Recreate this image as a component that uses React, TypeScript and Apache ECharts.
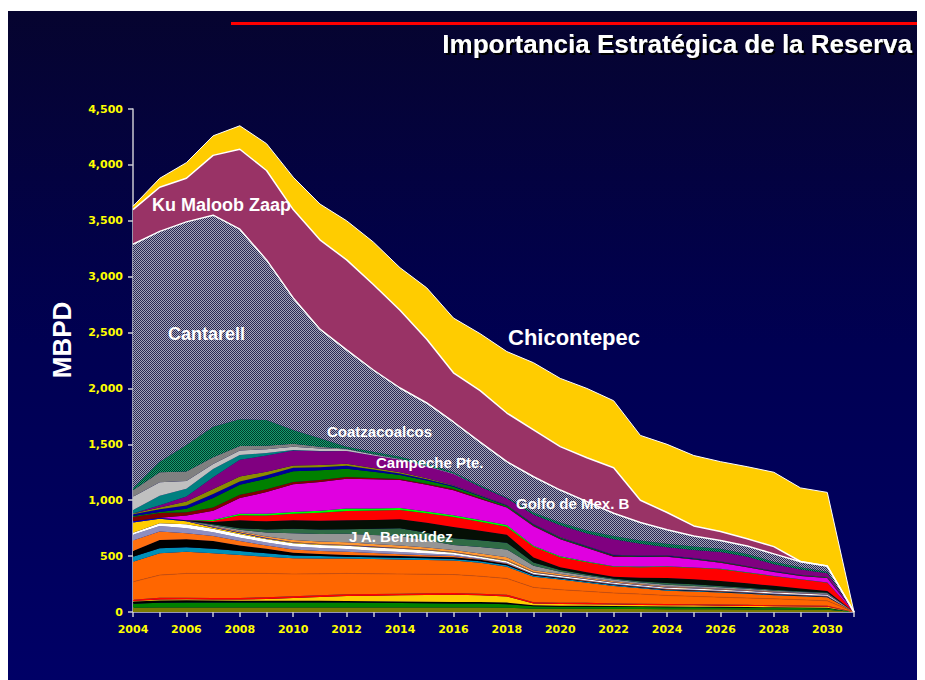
import React, { useEffect, useRef } from 'react';
import * as echarts from 'echarts';

const years = ['2004','2005','2006','2007','2008','2009','2010','2011','2012','2013','2014','2015','2016','2017','2018','2019','2020','2021','2022','2023','2024','2025','2026','2027','2028','2029','2030','2031'];

// stacked layers, bottom to top (MBPD)
const olivoBase = [38,40,40,40,40,40,40,40,40,40,40,40,40,40,38,30,28,28,26,26,25,24,24,22,22,20,20,0];
const verdeBase = [35,42,45,45,45,45,45,45,45,42,40,38,36,35,32,22,20,20,20,18,18,18,16,16,15,15,14,0];
const negroBase = [20,22,20,18,16,16,15,15,14,14,14,14,14,14,14,8,8,8,7,7,6,6,6,6,5,5,5,0];
const amarilloBase = [5,8,8,8,10,15,25,35,45,50,55,60,65,60,55,15,15,14,14,12,12,12,10,10,10,10,8,0];
const rojoBase = [12,15,15,15,15,15,15,15,15,15,15,15,15,15,15,12,12,12,10,10,10,10,10,10,8,8,8,0];
const naranjaA = [160,203,217,219,219,214,200,192,186,181,176,171,165,156,146,133,117,103,93,87,77,70,66,61,58,52,45,0];
const naranjaB = [180,195,195,180,165,150,140,136,133,133,130,127,125,120,105,96,90,77,63,52,43,44,43,38,32,30,31,0];
const azulVerde = [45,45,40,40,35,30,25,22,17,15,15,15,15,15,13,10,10,8,8,7,6,5,5,5,5,5,4,0];
const negro2 = [50,74,70,70,50,40,25,18,15,15,15,15,15,12,12,7,6,6,5,5,5,5,4,4,4,4,4,0];
const naranja2 = [95,76,55,45,40,30,30,28,28,22,17,12,10,6,5,3,3,3,3,3,3,3,3,3,3,3,3,0];
const grisLila = [50,50,45,33,30,27,27,26,26,22,20,17,12,6,5,4,3,3,3,3,3,3,3,3,3,3,3,0];
const blanco = [20,25,35,32,30,28,28,28,28,28,28,26,18,16,15,12,10,10,10,10,10,10,10,10,10,10,10,0];
const amarillo2 = [90,40,27,12,12,8,6,5,5,5,5,5,4,4,5,4,3,3,3,2,2,2,2,2,2,2,2,0];
const azul = [12,8,5,4,5,4,4,3,3,3,3,3,3,3,3,2,2,2,2,2,2,2,2,2,2,2,2,0];
const jaNaranja = [0,0,0,4,8,14,20,22,25,24,22,20,18,22,27,15,13,10,8,6,6,5,5,5,4,4,3,0];
const jaGris = [0,0,0,10,15,35,60,68,75,80,85,65,45,58,70,40,20,17,15,14,15,14,12,10,8,6,6,0];
const jaVerde = [0,0,0,10,15,28,40,40,40,55,70,65,60,60,60,30,15,12,10,12,16,15,12,10,8,6,6,0];
const jaNegro = [0,0,3,20,70,72,75,78,81,80,80,90,100,85,70,45,25,20,16,30,45,45,45,40,35,25,13,0];
const rojo = [0,0,0,10,45,52,60,72,83,83,82,86,90,80,72,95,90,90,89,95,100,102,104,95,85,80,74,0];
const verdeClaro = [0,0,0,7,15,15,14,18,21,20,18,16,15,15,16,10,8,6,5,5,5,4,4,4,3,3,3,0];
const magenta = [0,0,43,83,139,195,248,258,268,260,250,238,225,190,157,175,152,120,85,85,85,70,55,45,35,30,40,0];
const rojoOscuro = [38,42,30,30,30,25,20,18,15,12,10,10,10,8,5,5,5,5,5,4,4,4,4,3,3,3,3,0];
const verde = [8,10,30,85,89,95,98,86,74,55,35,28,20,15,10,8,7,6,5,4,4,4,4,3,3,3,3,0];
const marino = [17,25,30,35,30,30,30,28,27,20,15,12,10,7,4,4,5,5,5,4,4,3,3,3,3,2,2,0];
const olivo = [7,15,35,45,45,32,20,19,18,14,10,8,5,4,3,3,3,2,2,2,2,2,2,2,2,2,2,0];
const campeche = [0,20,45,105,149,145,135,124,113,112,112,106,100,75,60,82,105,113,138,105,72,73,83,83,60,47,32,0];
const verdeAzul = [30,85,70,75,43,22,5,2,0,0,0,0,0,0,0,0,0,0,0,0,0,0,0,0,0,0,0,0];
const grisClaro = [118,120,70,45,40,34,28,22,15,10,5,4,3,0,0,0,0,0,0,0,0,0,0,0,0,0,0,0];
const gris = [60,90,85,60,39,32,27,16,6,4,3,2,2,0,0,0,0,0,0,0,0,0,0,0,0,0,0,0];
const coatzacoalcos = [17,95,236,273,240,230,123,75,18,20,20,22,10,14,8,20,25,27,30,30,30,30,28,25,22,20,15,0];
const cantarell = [2183,2060,1996,1892,1701,1432,1182,976,866,731,614,540,450,385,320,320,291,257,203,160,125,95,75,70,70,50,50,0];
const kuMaloobZaap = [310,395,390,535,715,800,790,800,805,765,696,570,440,460,435,420,389,393,407,200,155,90,80,65,65,2,0,0];
const chicontepec = [30,80,140,175,210,240,290,320,350,380,380,460,490,510,550,600,610,620,600,580,610,630,625,645,665,658,659,0];

const yMin = 0;
const yMax = 4500;
const yStep = 500;

function makeChecker(light: string, dark: string) {
  const c = document.createElement('canvas');
  c.width = 2;
  c.height = 2;
  const ctx = c.getContext('2d')!;
  ctx.fillStyle = dark;
  ctx.fillRect(0, 0, 2, 2);
  ctx.fillStyle = light;
  ctx.fillRect(0, 0, 1, 1);
  ctx.fillRect(1, 1, 1, 1);
  return c;
}

export default function App() {
  const ref = useRef<HTMLDivElement>(null);
  useEffect(() => {
    const chart = echarts.init(ref.current!, undefined, { renderer: 'svg' });
    const grayPat = { image: makeChecker('#A4A4BA', '#282852'), repeat: 'repeat' };
    const greenPat = { image: makeChecker('#16A070', '#003A2A'), repeat: 'repeat' };
    const layers: any[] = [
      { name: 'Base olivo', data: olivoBase, color: '#7A7A00' },
      { name: 'Base verde', data: verdeBase, color: '#008000' },
      { name: 'Base negro', data: negroBase, color: '#000000' },
      { name: 'Base amarillo', data: amarilloBase, color: '#FFCC00' },
      { name: 'Base rojo', data: rojoBase, color: '#FF0000' },
      { name: 'Naranja A', data: naranjaA, color: '#FF6600', line: '#C8500F', lw: 0.7 },
      { name: 'Naranja B', data: naranjaB, color: '#FF6600' },
      { name: 'Azul verde', data: azulVerde, color: '#0090B8' },
      { name: 'Negro 2', data: negro2, color: '#000000' },
      { name: 'Naranja 2', data: naranja2, color: '#FF7010' },
      { name: 'Gris lila', data: grisLila, color: '#8E8EC0' },
      { name: 'Blanco', data: blanco, color: '#FFFFFF' },
      { name: 'Amarillo 2', data: amarillo2, color: '#FFCC00' },
      { name: 'Azul', data: azul, color: '#0000CC' },
      { name: 'JA naranja', data: jaNaranja, color: '#FF9933' },
      { name: 'JA gris', data: jaGris, color: '#959595' },
      { name: 'JA verde', data: jaVerde, color: '#2F6B45' },
      { name: 'J A. Bermúdez', data: jaNegro, color: '#050F05' },
      { name: 'Rojo', data: rojo, color: '#FF0000' },
      { name: 'Verde claro', data: verdeClaro, color: '#00FF00' },
      { name: 'Golfo de Mex. B', data: magenta, color: '#E000E0' },
      { name: 'Rojo oscuro', data: rojoOscuro, color: '#800000' },
      { name: 'Verde', data: verde, color: '#008000' },
      { name: 'Marino', data: marino, color: '#000099' },
      { name: 'Olivo', data: olivo, color: '#8C8C00' },
      { name: 'Campeche Pte.', data: campeche, color: '#800080' },
      { name: 'Verde azul', data: verdeAzul, color: '#008080' },
      { name: 'Gris claro', data: grisClaro, color: '#C0C0C0' },
      { name: 'Gris', data: gris, color: '#808080' },
      { name: 'Coatzacoalcos', data: coatzacoalcos, color: greenPat },
      { name: 'Cantarell', data: cantarell, color: grayPat, line: '#FFFFFF', lw: 1.5 },
      { name: 'Ku Maloob Zaap', data: kuMaloobZaap, color: '#993366', line: '#FFFFFF', lw: 1.5 },
      { name: 'Chicontepec', data: chicontepec, color: '#FFCC00', line: '#FFFFFF', lw: 1 },
    ];
    const series = layers.map((l) => ({
      name: l.name,
      type: 'line',
      stack: 'total',
      data: l.data,
      symbol: 'none',
      showSymbol: false,
      silent: true,
      lineStyle: l.line ? { color: l.line, width: l.lw } : { width: 0, opacity: 0 },
      areaStyle: { color: l.color, opacity: 1 },
      emphasis: { disabled: true },
    }));
    const labelFont = "bold 15px 'Liberation Sans', Arial, sans-serif";
    const txt = (text: string, x: number, y: number, font: string) => ({
      type: 'text',
      x,
      y,
      z: 100,
      silent: true,
      style: { text, fill: '#FFFFFF', font, align: 'left', verticalAlign: 'middle' },
    });
    chart.setOption({
      animation: false,
      backgroundColor: 'transparent',
      grid: { left: 125, right: 71, top: 98, bottom: 68, containLabel: false },
      xAxis: {
        type: 'category',
        data: years,
        boundaryGap: false,
        axisLine: { lineStyle: { color: '#C8C8D0', width: 1.5 } },
        axisTick: { interval: 0, length: 5, lineStyle: { color: '#C8C8D0', width: 1.5 } },
        axisLabel: {
          interval: 1,
          margin: 12,
          color: '#FFFF00',
          fontFamily: "'DejaVu Sans', Verdana, sans-serif",
          fontWeight: 'bold',
          fontSize: 11,
        },
        splitLine: { show: false },
      },
      yAxis: {
        type: 'value',
        min: yMin,
        max: yMax,
        interval: yStep,
        axisLine: { show: true, lineStyle: { color: '#C8C8D0', width: 1.5 } },
        axisTick: { show: true, length: 5, lineStyle: { color: '#C8C8D0', width: 1.5 } },
        axisLabel: {
          margin: 10,
          color: '#FFFF00',
          fontFamily: "'DejaVu Sans', Verdana, sans-serif",
          fontWeight: 'bold',
          fontSize: 11,
          formatter: (v: number) => v.toLocaleString('en-US'),
        },
        splitLine: { show: false },
      },
      series,
      graphic: [
        { type: 'rect', silent: true, shape: { x: 223, y: 11, width: 689, height: 3 }, style: { fill: '#FF0000' } },
        {
          type: 'text',
          x: 904,
          y: 33,
          silent: true,
          style: {
            text: 'Importancia Estratégica de la Reserva',
            fill: '#FFFFFF',
            font: "bold 26px 'Liberation Sans', Arial, sans-serif",
            align: 'right',
            verticalAlign: 'middle',
            textShadowColor: '#000000',
            textShadowOffsetX: 2,
            textShadowOffsetY: 2,
            textShadowBlur: 1,
          },
        },
        {
          type: 'text',
          x: 54,
          y: 329,
          rotation: Math.PI / 2,
          silent: true,
          style: {
            text: 'MBPD',
            fill: '#FFFFFF',
            font: "bold 26px 'Liberation Sans', Arial, sans-serif",
            align: 'center',
            verticalAlign: 'middle',
          },
        },
        txt('Ku Maloob Zaap', 144, 194, "bold 18px 'Liberation Sans', Arial, sans-serif"),
        txt('Cantarell', 160, 323, "bold 18px 'Liberation Sans', Arial, sans-serif"),
        txt('Chicontepec', 500, 326, "bold 22px 'Liberation Sans', Arial, sans-serif"),
        txt('Coatzacoalcos', 319, 420, labelFont),
        txt('Campeche Pte.', 368, 451, labelFont),
        txt('Golfo de Mex. B', 508, 492, labelFont),
        txt('J A. Bermúdez', 341, 525, labelFont),
      ],
    });
    return () => chart.dispose();
  }, []);
  return (
    <div style={{ paddingTop: 3 }}>
      <div
        ref={ref}
        style={{
          width: 917,
          height: 669,
          background: 'linear-gradient(180deg, #06042F 0%, #000052 50%, #000066 100%)',
        }}
      />
    </div>
  );
}
